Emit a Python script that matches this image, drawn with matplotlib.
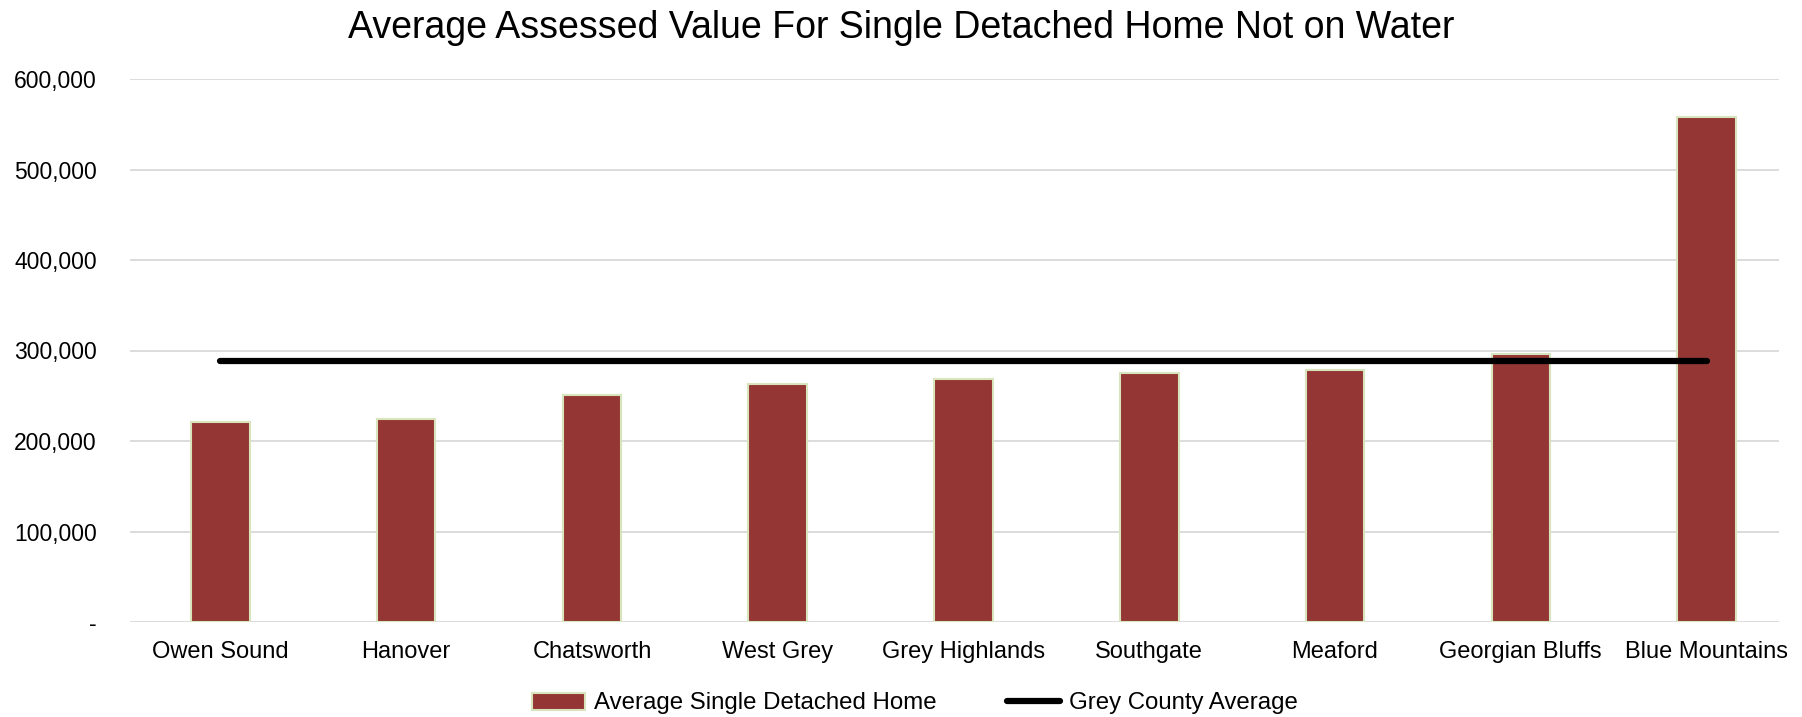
import matplotlib.pyplot as plt
from matplotlib.ticker import FuncFormatter

plt.rcParams['font.family'] = ['Liberation Sans', 'DejaVu Sans']

towns = ['Owen Sound', 'Hanover', 'Chatsworth', 'West Grey', 'Grey Highlands',
         'Southgate', 'Meaford', 'Georgian Bluffs', 'Blue Mountains']
home_values = [221000, 224000, 251000, 263000, 269000, 275000, 278000, 296000, 558000]
county_avg = [288300] * len(towns)

fig = plt.figure(figsize=(18.02, 7.17), dpi=100)
ax = fig.add_axes([130/1802, 1 - 622/717, (1779-130)/1802, (622-79)/717])

x = list(range(len(towns)))
bars = ax.bar(x, home_values, width=0.315, color='#943634', edgecolor='#d8e4bc', linewidth=1.5,
              label='Average Single Detached Home', zorder=2)
line, = ax.plot(x, county_avg, color='black', linewidth=4.5, solid_capstyle='round',
                label='Grey County Average', zorder=3)

ax.set_ylim(0, 600000)
ax.set_xlim(-0.487, 8.39)
ax.set_yticks(range(0, 600001, 100000))
ax.yaxis.set_major_formatter(FuncFormatter(lambda v, p: '-' if v == 0 else '{:,.0f}'.format(v)))
ax.set_xticks(x)
ax.set_xticklabels(towns)
ax.tick_params(axis='both', length=0)
ax.tick_params(axis='y', labelsize=16.5, pad=24)
ax.tick_params(axis='x', labelsize=17, pad=14)
ax.grid(axis='y', color='#d9d9d9', linewidth=1.3, zorder=0)
for s in ax.spines.values():
    s.set_visible(False)

fig.text(0.5, 1 - 27.5/717, 'Average Assessed Value For Single Detached Home Not on Water',
         ha='center', va='center', fontsize=27)

fig.legend([bars, line], ['Average Single Detached Home', 'Grey County Average'],
           loc='center', bbox_to_anchor=(0.5078, 1 - 703.5/717), ncol=2, frameon=False,
           fontsize=17.3, handlelength=2.2, handletextpad=0.4, columnspacing=2.9)

fig.savefig('out.png', dpi=100)
